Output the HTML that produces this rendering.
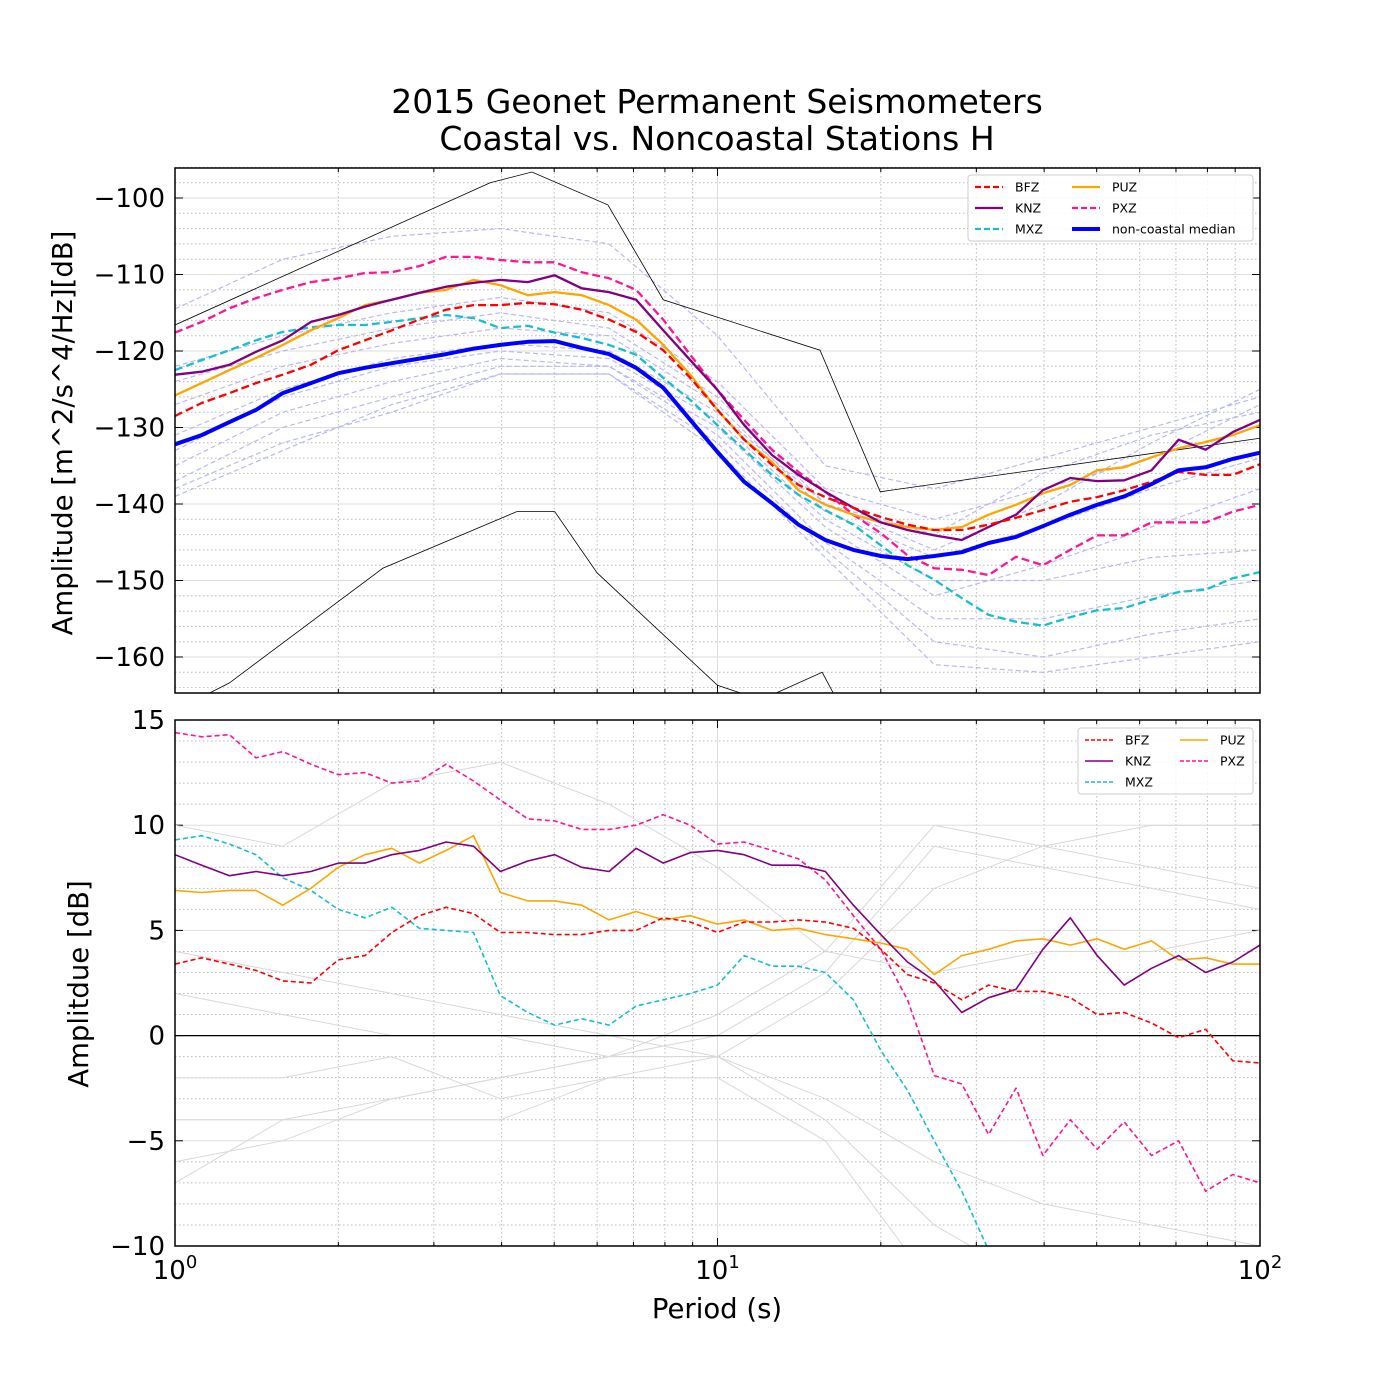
<!DOCTYPE html>
<html><head><meta charset="utf-8"><style>
html,body{margin:0;padding:0;background:#fff;}
svg{display:block;font-family:"DejaVu Sans","Liberation Sans",sans-serif;}
</style></head><body>
<svg id="chart" width="1400" height="1400" viewBox="0 0 1400 1400" xmlns="http://www.w3.org/2000/svg">
<rect width="1400" height="1400" fill="#fff"/>
<text x="717" y="113" font-size="33" text-anchor="middle">2015 Geonet Permanent Seismometers</text>
<text x="717" y="150" font-size="33" text-anchor="middle">Coastal vs. Noncoastal Stations H</text>
<defs>
<clipPath id="clipTop"><rect x="175" y="168" width="1085" height="525"/></clipPath>
<clipPath id="clipBot"><rect x="175" y="720" width="1085" height="526"/></clipPath>
</defs>
<g id="top"></g>
<g id="bot"></g>
</svg>
<script>
const periods = [1.00,1.12,1.26,1.41,1.58,1.78,2.00,2.24,2.51,2.82,3.16,3.55,3.98,4.47,5.01,5.62,6.31,7.08,7.94,8.91,10,11.2,12.6,14.1,15.8,17.8,20,22.4,25.1,28.2,31.6,35.5,39.8,44.7,50.1,56.2,63.1,70.8,79.4,89.1,100];
const coarsePeriods = [1,1.58,2.51,3.98,6.31,10,15.8,25.1,39.8,63.1,100];
const topMedian = [-132.2,-131,-129.3,-127.7,-125.5,-124.2,-122.9,-122.2,-121.6,-121,-120.4,-119.7,-119.2,-118.8,-118.7,-119.6,-120.4,-122.2,-124.8,-129,-133.2,-137.1,-139.9,-142.7,-144.7,-146,-146.8,-147.2,-146.8,-146.3,-145.1,-144.3,-142.9,-141.4,-140.1,-139,-137.4,-135.6,-135.2,-134.1,-133.3];
const topBFZ = [-128.5,-126.8,-125.5,-124.2,-123.1,-121.8,-119.9,-118.6,-117.3,-115.9,-114.6,-114,-114,-113.7,-113.9,-114.6,-115.9,-117.5,-119.9,-123.5,-127.7,-131.6,-134.9,-137.5,-139.1,-140.5,-141.7,-142.7,-143.4,-143.4,-142.7,-141.8,-140.8,-139.7,-139.1,-138.2,-137.1,-135.8,-136.2,-136.2,-134.8];
const topKNZ = [-123.1,-122.7,-121.8,-120.1,-118.6,-116.2,-115.3,-114.2,-113.3,-112.4,-111.6,-111.1,-110.7,-111,-110.1,-111.8,-112.3,-113.3,-117.3,-121.2,-125.1,-129.7,-133.6,-136.2,-138.4,-140.5,-142.4,-143.4,-144.1,-144.7,-143,-141.4,-138.2,-136.6,-137,-136.9,-135.6,-131.6,-132.9,-130.6,-129];
const topPUZ = [-125.8,-124.2,-122.5,-120.9,-119.2,-117.3,-115.7,-114,-113.3,-112.4,-112,-110.7,-111.4,-112.7,-112.3,-112.7,-114,-115.9,-119.2,-123.1,-127.7,-131.6,-134.5,-138.2,-140.1,-141.4,-142.4,-143,-143.4,-143,-141.4,-140.1,-138.6,-137.5,-135.6,-135.2,-133.9,-132.7,-131.9,-131,-129.7];
const topPXZ = [-117.6,-116.2,-114.4,-113.1,-112,-111,-110.5,-109.8,-109.7,-108.9,-107.7,-107.7,-108.1,-108.4,-108.4,-109.7,-110.5,-112,-115.9,-120.5,-125.1,-129,-132.9,-135.8,-138.4,-141.4,-143.8,-146.7,-148.4,-148.6,-149.3,-146.9,-148,-146,-144.1,-144.1,-142.4,-142.4,-142.4,-141,-140.1];
const topMXZ = [-122.5,-121.2,-119.9,-118.6,-117.5,-116.9,-116.6,-116.6,-116.2,-115.7,-115.3,-115.7,-117,-116.7,-117.6,-118.3,-119.2,-120.5,-123.5,-126.4,-129.7,-132.9,-136.2,-138.8,-140.8,-142.7,-145.4,-148,-149.9,-152.3,-154.5,-155.4,-155.9,-154.8,-153.9,-153.6,-152.5,-151.5,-151.2,-149.7,-148.9];
const bgTop1 = [-114.5,-108,-105,-104,-106,-118,-135,-138,-134,-130,-126];
const bgTop2 = [-122,-118,-115,-113,-115,-124,-138,-142,-138,-134,-127];
const bgTop3 = [-127,-122,-119,-117,-118,-127,-141,-147,-143,-138,-134];
const bgTop4 = [-133,-126,-122,-120,-121,-129,-142,-150,-150,-147,-146];
const bgTop5 = [-137,-130,-126,-122,-122,-131,-145,-155,-155,-152,-150];
const bgTop6 = [-138,-132,-128,-123,-123,-132,-146,-158,-160,-157,-155];
const bgTop7 = [-135,-128,-124,-121,-122,-130,-143,-152,-148,-143,-138];
const bgTop8 = [-131,-125,-121,-119,-120,-128,-140,-146,-140,-132,-125];
const bgTop9 = [-139,-133,-127,-123,-123,-133,-147,-161,-162,-160,-158];
const bgTop10 = [-124,-120,-117,-115,-117,-126,-140,-144,-136,-131,-128];
const highModelLogP = [0,0.581,0.658,0.798,0.9,1.189,1.3,2];
const highModelDb = [-116.6,-98,-96.6,-100.9,-113.3,-119.9,-138.4,-131.4];
const lowModelLogP = [0,0.1,0.383,0.63,0.7,0.778,1,1.08,1.193,1.22];
const lowModelDb = [-167,-163.4,-148.4,-141,-141,-149,-163.7,-165.6,-162,-165.6];
const botBFZ = [3.4,3.7,3.4,3.1,2.6,2.5,3.6,3.8,4.9,5.7,6.1,5.8,4.9,4.9,4.8,4.8,5.0,5.0,5.6,5.4,4.9,5.4,5.4,5.5,5.4,5.1,4.1,2.9,2.5,1.7,2.4,2.1,2.1,1.8,1.0,1.1,0.6,-0.1,0.3,-1.2,-1.3];
const botKNZ = [8.6,8.1,7.6,7.8,7.6,7.8,8.2,8.2,8.6,8.8,9.2,9.0,7.8,8.3,8.6,8.0,7.8,8.9,8.2,8.7,8.8,8.6,8.1,8.1,7.8,6.2,4.8,3.5,2.6,1.1,1.8,2.2,4.1,5.6,3.8,2.4,3.2,3.8,3.0,3.5,4.3];
const botPUZ = [6.9,6.8,6.9,6.9,6.2,7.0,8.0,8.6,8.9,8.2,8.8,9.5,6.8,6.4,6.4,6.2,5.5,5.9,5.5,5.7,5.3,5.5,5.0,5.1,4.8,4.6,4.4,4.1,2.9,3.8,4.1,4.5,4.6,4.3,4.6,4.1,4.5,3.6,3.7,3.4,3.4];
const botPXZ = [14.4,14.2,14.3,13.2,13.5,12.9,12.4,12.5,12.0,12.1,12.9,12.1,11.2,10.3,10.2,9.8,9.8,10.0,10.5,10.0,9.1,9.2,8.8,8.4,7.4,5.7,4.1,1.7,-1.9,-2.3,-4.7,-2.5,-5.7,-4.0,-5.4,-4.1,-5.7,-5.0,-7.4,-6.6,-7.0];
const botMXZ = [9.3,9.5,9.1,8.6,7.5,6.9,6.0,5.6,6.1,5.1,5.0,4.9,1.9,1.1,0.5,0.8,0.5,1.4,1.7,2.0,2.4,3.8,3.3,3.3,3.0,1.7,-0.7,-2.6,-5.0,-7.4,-10.2,-12,-12,-12,-12,-12,-12,-12,-12,-12,-12];
const bgBot1 = [4,3,2,1,0,-1,-3,-6,-8,-9,-10];
const bgBot2 = [-6,-5,-3,-2,-1,0,3,9,8,7,6];
const bgBot3 = [-7,-4,-4,-4,-2,-2,-5,-12,-14,-14,-14];
const bgBot4 = [2,1,0,0,-1,-1,2,7,9,10,10];
const bgBot5 = [-2,-2,-1,-3,-2,-1,-4,-9,-12,-13,-13];
const bgBot6 = [10,9,12,13,11,8,4,3,4,4,5];
const bgBot7 = [-4,-4,-3,-2,-1,1,4,10,9,8,7];
const topTicks = [-100,-110,-120,-130,-140,-150,-160];
const botTicks = [-10,-5,0,5,10,15];

const NS='http://www.w3.org/2000/svg';
const X0=175,X1=1260;
function xs(p){return X0+Math.log10(p)*(X1-X0)/2;}
function xl(lp){return X0+lp*(X1-X0)/2;}
function yTop(v){return 198+(-100-v)*7.65;}
function yBot(v){return 1035.6-v*21.04;}
function mk(parent,tag,attrs){const e=document.createElementNS(NS,tag);for(const k in attrs)e.setAttribute(k,attrs[k]);parent.appendChild(e);return e;}
function pts(px,vals,yf){return vals.map((v,i)=>xs(px[i]).toFixed(1)+','+yf(v).toFixed(1)).join(' ');}

function drawAxes(g,yTopPx,yBotPx,yf,vmin,vmax,minorStep,ticks,clipId){
  for(let d=0;d<2;d++)for(let m=2;m<=9;m++){const x=xs(m*Math.pow(10,d));
    const l=mk(g,'line',{x1:x,x2:x,y1:yTopPx,y2:yBotPx,stroke:'#bbb','stroke-width':1,'stroke-dasharray':'1.5,2.5'});
    
    
    mk(g,'line',{x1:x,x2:x,y1:yBotPx,y2:yBotPx-4,stroke:'#000','stroke-width':1});
    mk(g,'line',{x1:x,x2:x,y1:yTopPx,y2:yTopPx+4,stroke:'#000','stroke-width':1});}
  for(let v=Math.ceil(vmin);v<=vmax;v+=minorStep){if(ticks.includes(v))continue;const y=yf(v);
    const l=mk(g,'line',{x1:X0,x2:X1,y1:y,y2:y,stroke:'#bbb','stroke-width':1,'stroke-dasharray':'1.5,2.5'});
    
    }
  [1,10,100].forEach(p=>{const x=xs(p);mk(g,'line',{x1:x,x2:x,y1:yTopPx,y2:yBotPx,stroke:'#ddd','stroke-width':1});
    mk(g,'line',{x1:x,x2:x,y1:yBotPx,y2:yBotPx-8,stroke:'#000','stroke-width':1});
    mk(g,'line',{x1:x,x2:x,y1:yTopPx,y2:yTopPx+8,stroke:'#000','stroke-width':1});});
  ticks.forEach(v=>{const y=yf(v);
    mk(g,'line',{x1:X0,x2:X1,y1:y,y2:y,stroke:'#ddd','stroke-width':1});
    mk(g,'line',{x1:X0,x2:X0+8,y1:y,y2:y,stroke:'#000','stroke-width':1});
    mk(g,'line',{x1:X1,x2:X1-8,y1:y,y2:y,stroke:'#000','stroke-width':1});
    const t=mk(g,'text',{x:X0-10,y:y+9,'font-size':26,'text-anchor':'end'});
    t.textContent=(v<0?'\u2212'+(-v):''+v);
    
    });
}
function line(g,px,vals,yf,color,w,dash,clip,name){
  const a={points:pts(px,vals,yf),fill:'none',stroke:color,'stroke-width':w,'clip-path':'url(#'+clip+')','stroke-linejoin':'round'};
  if(dash)a['stroke-dasharray']=dash;
  const e=mk(g,'polyline',a);
  
  
  return e;}
function legend(g,x,y,w,h,entries){
  const r=mk(g,'rect',{x:x,y:y,width:w,height:h,fill:'#fff','fill-opacity':0.85,stroke:'#ccc','stroke-width':1,rx:3});
  
  
  entries.forEach(en=>{const a={x1:en.x,x2:en.x+28,y1:en.y,y2:en.y,stroke:en.c,'stroke-width':en.w};if(en.d)a['stroke-dasharray']=en.d;
    const l=mk(g,'line',a);
    
    
    const t=mk(g,'text',{x:en.x+40,y:en.y+4.5,'font-size':12.5});t.textContent=en.t;
    
    });
}

const gt=document.getElementById('top');
drawAxes(gt,168,693,yTop,-164,-96,2,topTicks,'clipTop');
[bgTop1,bgTop2,bgTop3,bgTop4,bgTop5,bgTop6,bgTop7,bgTop8,bgTop9,bgTop10].forEach(s=>line(gt,coarsePeriods,s,yTop,'#b8b8f5',1.2,'5,3','clipTop','background-station-line'));
const hm=mk(gt,'polyline',{points:highModelLogP.map((lp,i)=>xl(lp)+','+yTop(highModelDb[i])).join(' '),fill:'none',stroke:'#000','stroke-width':0.8,'clip-path':'url(#clipTop)'});


const lm=mk(gt,'polyline',{points:lowModelLogP.map((lp,i)=>xl(lp)+','+yTop(lowModelDb[i])).join(' '),fill:'none',stroke:'#000','stroke-width':0.8,'clip-path':'url(#clipTop)'});


line(gt,periods,topMXZ,yTop,'#17becf',2.3,'8,4','clipTop','mxz-line');
line(gt,periods,topPXZ,yTop,'#ff1493',2.3,'8,4','clipTop','pxz-line');
line(gt,periods,topPUZ,yTop,'#ffa500',2.3,null,'clipTop','puz-line');
line(gt,periods,topKNZ,yTop,'#800080',2.3,null,'clipTop','knz-line');
line(gt,periods,topBFZ,yTop,'#ff0000',2.3,'8,4','clipTop','bfz-line');
line(gt,periods,topMedian,yTop,'#0000ff',4,null,'clipTop','non-coastal-median-line');
mk(gt,'rect',{x:175,y:168,width:1085,height:525,fill:'none',stroke:'#000','stroke-width':1.5});
legend(gt,968,175,285,66,[
 {x:975,y:187,c:'#ff0000',w:2.3,d:'6,3',t:'BFZ'},{x:1072,y:187,c:'#ffa500',w:2.3,t:'PUZ'},
 {x:975,y:208,c:'#800080',w:2.3,t:'KNZ'},{x:1072,y:208,c:'#ff1493',w:2.3,d:'6,3',t:'PXZ'},
 {x:975,y:229,c:'#17becf',w:2.3,d:'6,3',t:'MXZ'},{x:1072,y:229,c:'#0000ff',w:4,t:'non-coastal median'}]);
const yl1=mk(gt,'text',{x:0,y:0,'font-size':27.5,'text-anchor':'middle',transform:'translate(72,433) rotate(-90)'});
yl1.textContent='Amplitude [m^2/s^4/Hz][dB]';



const gb=document.getElementById('bot');
drawAxes(gb,720,1246,yBot,-10,15,1,botTicks,'clipBot');
[bgBot1,bgBot2,bgBot3,bgBot4,bgBot5,bgBot6,bgBot7].forEach(s=>line(gb,coarsePeriods,s,yBot,'#d8d8d8',1,null,'clipBot','background-difference-line'));
const zl=mk(gb,'line',{x1:X0,x2:X1,y1:yBot(0),y2:yBot(0),stroke:'#000','stroke-width':1.2});


line(gb,periods,botMXZ,yBot,'#17becf',1.6,'5,3','clipBot','mxz-diff-line');
line(gb,periods,botPXZ,yBot,'#ff1493',1.6,'5,3','clipBot','pxz-diff-line');
line(gb,periods,botPUZ,yBot,'#ffa500',1.6,null,'clipBot','puz-diff-line');
line(gb,periods,botKNZ,yBot,'#800080',1.6,null,'clipBot','knz-diff-line');
line(gb,periods,botBFZ,yBot,'#ff0000',1.6,'5,3','clipBot','bfz-diff-line');
mk(gb,'rect',{x:175,y:720,width:1085,height:526,fill:'none',stroke:'#000','stroke-width':1.5});
legend(gb,1078,728,175,66,[
 {x:1085,y:740,c:'#ff0000',w:1.6,d:'4,2',t:'BFZ'},{x:1180,y:740,c:'#ffa500',w:1.6,t:'PUZ'},
 {x:1085,y:761,c:'#800080',w:1.6,t:'KNZ'},{x:1180,y:761,c:'#ff1493',w:1.6,d:'4,2',t:'PXZ'},
 {x:1085,y:782,c:'#17becf',w:1.6,d:'4,2',t:'MXZ'}]);
const yl2=mk(gb,'text',{x:0,y:0,'font-size':27.5,'text-anchor':'middle',transform:'translate(88,984) rotate(-90)'});
yl2.textContent='Amplitdue [dB]';


[[1,'0'],[10,'1'],[100,'2']].forEach(([p,e])=>{const t=mk(gb,'text',{x:xs(p),y:1279,'font-size':26,'text-anchor':'middle'});
  t.innerHTML='10<tspan dy="-11" font-size="18">'+e+'</tspan>';
  
  });
const xlab=mk(gb,'text',{x:717,y:1318,'font-size':27.5,'text-anchor':'middle'});
xlab.textContent='Period (s)';


</script>
</body></html>
